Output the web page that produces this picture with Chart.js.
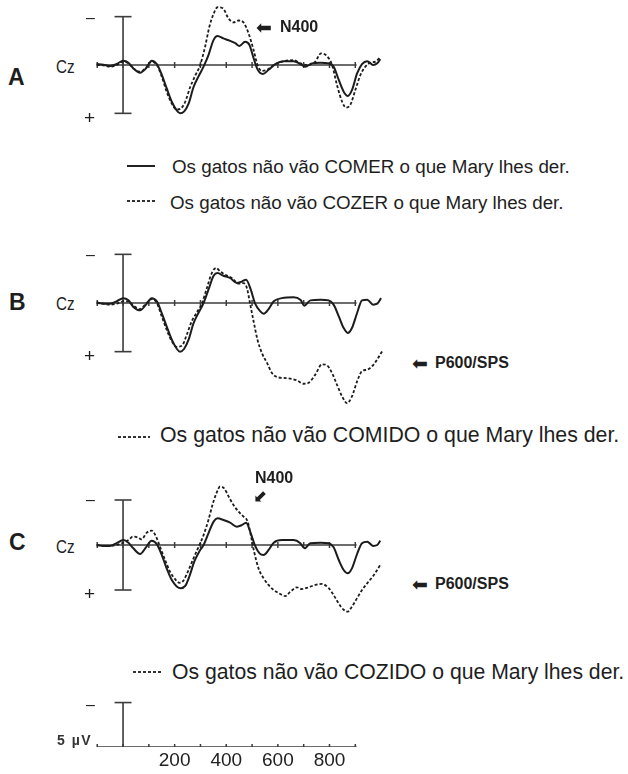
<!DOCTYPE html>
<html>
<head>
<meta charset="utf-8">
<script src="https://cdn.jsdelivr.net/npm/chart.js@4.4.1/dist/chart.umd.min.js"></script>
<style>
  html,body{margin:0;padding:0;background:#fff;}
  #page{position:relative;width:628px;height:774px;overflow:hidden;background:#fff;font-family:"Liberation Sans",Arial,sans-serif;color:#1e1e1e;}
  canvas{position:absolute;}
  .t{position:absolute;white-space:nowrap;line-height:1;transform:translateY(-50%);}
  .b{font-weight:bold;}
  .arr{position:absolute;white-space:nowrap;line-height:1;transform:translateY(-50%);font-family:'DejaVu Sans',sans-serif;font-size:19px;color:#1e1e1e;}
  .solid{position:absolute;height:2px;background:#222;}
  .dots{position:absolute;height:2px;background:repeating-linear-gradient(90deg,#333 0 3px,transparent 3px 5px);}
</style>
</head>
<body>
<div id="page">
  <canvas id="cA" width="296" height="130" style="left:90px;top:0px"></canvas>
  <canvas id="cB" width="296" height="180" style="left:90px;top:240px"></canvas>
  <canvas id="cC" width="296" height="140" style="left:90px;top:480px"></canvas>
  <canvas id="cS" width="296" height="84" style="left:90px;top:690px"></canvas>

  <!-- Panel A -->
  <div class="t b" style="left:8px;top:77px;font-size:23px">A</div>
  <div class="t" style="left:56px;top:66px;font-size:19px;transform:translateY(-50%) scaleX(0.8);transform-origin:left center">Cz</div>
  <div class="t" style="left:86px;top:18px;font-size:16px">–</div>
  <div class="t" style="left:84px;top:117px;font-size:19px">+</div>
  <div class="arr" style="left:256px;top:27px">⬅</div>
  <div class="t b" style="left:280px;top:27px;font-size:16px">N400</div>
  <div class="solid" style="left:127px;top:165px;width:28px"></div>
  <div class="t" style="left:172px;top:167px;font-size:18.8px">Os gatos não vão COMER o que Mary lhes der.</div>
  <div class="dots" style="left:127px;top:200px;width:28px"></div>
  <div class="t" style="left:170px;top:203px;font-size:18.8px">Os gatos não vão COZER o que Mary lhes der.</div>

  <!-- Panel B -->
  <div class="t b" style="left:9px;top:302px;font-size:23px">B</div>
  <div class="t" style="left:56px;top:303px;font-size:19px;transform:translateY(-50%) scaleX(0.8);transform-origin:left center">Cz</div>
  <div class="t" style="left:86px;top:255px;font-size:16px">–</div>
  <div class="t" style="left:84px;top:355px;font-size:19px">+</div>
  <div class="arr" style="left:412px;top:363px">⬅</div>
  <div class="t b" style="left:435px;top:363px;font-size:16px">P600/SPS</div>
  <div class="dots" style="left:118px;top:436px;width:32px"></div>
  <div class="t" style="left:160px;top:436px;font-size:21.3px">Os gatos não vão COMIDO o que Mary lhes der.</div>

  <!-- Panel C -->
  <div class="t b" style="left:9px;top:542px;font-size:23px">C</div>
  <div class="t" style="left:56px;top:546px;font-size:19px;transform:translateY(-50%) scaleX(0.8);transform-origin:left center">Cz</div>
  <div class="t" style="left:86px;top:500px;font-size:16px">–</div>
  <div class="t" style="left:84px;top:593px;font-size:19px">+</div>
  <div class="t b" style="left:255px;top:478px;font-size:16px">N400</div>
  <div class="arr" style="left:253px;top:496px;font-size:17px">⬋</div>
  <div class="arr" style="left:412px;top:584px">⬅</div>
  <div class="t b" style="left:435px;top:584px;font-size:16px">P600/SPS</div>
  <div class="dots" style="left:133px;top:671px;width:30px"></div>
  <div class="t" style="left:172px;top:672px;font-size:21.2px">Os gatos não vão COZIDO o que Mary lhes der.</div>

  <!-- Scale -->
  <div class="t" style="left:86px;top:705px;font-size:16px">–</div>
  <div class="t b" style="left:57px;top:740px;font-size:14px;letter-spacing:1.5px;color:#333">5 µV</div>
</div>

<script>
// ---------- DATA (time in ms, amplitude in µV; negative plotted up) ----------
const A_comer_ms = [-102,-76,-50,-25,1,21,40,66,89,111,131,150,169,189,208,221,237,254,273,292,312,331,351,366,389,415,435,451,473,490,506,521,542,564,590,622,661,687,706,732,765,797,816,836,855,871,887,907,926,946,969,985,997];
const A_comer_uV = [-0.1,-0.03,0.1,-0.1,-0.45,-0.24,0.35,0.8,0.35,-0.45,-0.1,1.0,2.4,3.8,4.7,5.0,4.8,4.0,2.3,1.2,0.17,-1.03,-2.6,-3.0,-2.75,-2.5,-2.25,-1.97,-2.4,-2.07,-0.7,0.45,0.93,0.5,-0.1,-0.4,-0.4,-0.1,0.17,-0.17,-0.24,-0.17,0.17,1.55,2.76,3.2,2.6,0.86,-0.1,-0.4,0,-0.17,-0.6];

const A_cozer_ms = [-102,-76,-50,-25,1,21,40,66,89,111,131,150,169,189,208,224,241,260,279,299,318,335,351,366,387,409,428,448,467,486,506,521,538,558,584,616,661,687,713,745,767,790,810,829,849,864,881,900,920,939,959,978,997];
const A_cozer_uV = [0,0.03,0.17,0,-0.35,-0.17,0.35,0.7,0.28,-0.35,0,1.2,2.76,4.0,4.6,4.5,3.8,2.3,1.14,0,-1.9,-4.0,-5.3,-5.97,-5.86,-4.8,-4.4,-4.6,-4.4,-3.3,-1.55,0,0.6,0.5,0,-0.35,-0.5,-0.17,0,-0.35,-1.2,-0.93,0,2.07,3.8,4.4,4.1,2.6,1.03,0.17,-0.24,-0.35,-0.8];

const B_comer_ms = [-102,-76,-50,-25,1,21,40,66,89,111,131,150,169,189,208,221,237,254,273,292,312,331,351,366,389,415,441,460,477,495,512,532,545,564,584,616,661,687,703,726,765,797,816,836,855,871,887,907,926,946,969,985,1000];
const B_comer_uV = [-0.07,0.07,0.07,-0.17,-0.5,-0.27,0.4,0.75,0.17,-0.5,-0.17,1.03,2.4,3.77,4.7,5.0,4.7,3.77,2.1,1.03,0,-1.37,-2.8,-3.08,-2.8,-2.57,-2.05,-2.2,-2.4,-1.37,0.07,0.86,1.1,0.62,-0.17,-0.5,-0.58,-0.34,0.27,-0.27,-0.34,-0.27,0.17,1.37,2.57,3.08,2.57,1.03,-0.27,-0.34,0.17,0.07,-0.5];

const B_comido_ms = [-102,-76,-50,-25,1,21,40,66,89,111,131,150,169,189,208,228,247,266,286,305,325,344,361,376,396,422,448,467,480,493,506,521,538,558,577,596,622,648,674,700,719,745,771,790,810,829,849,868,887,907,926,946,965,985,1004];
const B_comido_uV = [0,0.07,0.17,0.07,-0.17,-0.17,0.27,0.62,0.07,-0.4,0,1.37,2.74,3.94,4.5,4.4,3.25,1.9,0.96,0.07,-1.54,-3.08,-3.6,-3.25,-2.9,-2.57,-1.99,-2.05,-1.54,0.17,1.9,3.77,5.14,6.16,7.2,7.6,7.7,7.77,7.95,8.3,8.2,7.36,6.3,6.4,7.2,8.4,9.6,10.3,9.6,8.05,7.0,6.85,6.5,5.8,4.97];

const C_comer_ms = [-102,-76,-50,-25,1,21,40,66,89,111,131,150,169,189,208,224,241,257,276,295,312,331,351,366,389,415,441,460,477,495,512,529,545,564,584,616,661,687,703,726,765,797,816,836,855,871,887,907,926,946,969,985,997];
const C_comer_uV = [0,0.1,0.1,-0.2,-0.55,-0.26,0.37,1.0,0.26,-0.48,-0.1,1.1,2.6,3.9,4.6,4.8,4.55,3.5,1.85,0.74,0,-1.3,-2.6,-2.96,-2.78,-2.48,-2.04,-2.2,-2.48,-1.3,0.1,0.93,1.1,0.55,-0.26,-0.55,-0.55,-0.2,0.37,-0.2,-0.26,-0.2,0.26,1.67,2.78,3.15,2.6,1.0,-0.2,-0.37,0.1,0,-0.48];

const C_cozido_ms = [-102,-76,-50,-25,1,21,38,56,72,92,111,128,144,163,182,202,219,234,254,273,292,312,331,348,364,376,392,409,428,448,467,483,495,508,525,545,564,584,609,629,648,674,693,719,745,771,797,816,836,855,871,887,907,926,946,972,997];
const C_cozido_uV = [0,0.1,0.1,0,-0.26,-0.55,-0.93,-0.85,-0.63,-1.37,-1.6,-0.93,0.26,1.67,2.96,3.8,4.2,3.96,2.78,1.48,0.26,-1.1,-2.78,-4.6,-5.9,-6.5,-6.3,-5.4,-4.44,-3.7,-3.15,-2.6,-1.1,0.74,2.6,3.7,4.44,5.0,5.44,5.67,5.2,4.7,4.9,4.7,4.44,4.33,4.8,5.56,6.5,7.2,7.4,6.85,5.9,5.0,4.26,3.33,2.2];

const baselineTicks_ms = [-100,0,100,200,300,400,500,600,700,800,900];
const xTickLabels = [200,400,600,800];
const baselineRange_ms = [-100, 905];
const scaleBar_uV = 5;

// ---------- helpers ----------
const INK = '#1c1c1c';
const AXIS = '#3c3c3c';
const X_MIN = -128, X_MAX = 1019;
const pts = (t, v) => t.map((x, i) => ({x, y: v[i]}));

function traceSolid(t, v){
  return {data: pts(t, v), showLine: true, borderColor: INK, borderWidth: 2, pointRadius: 0,
          cubicInterpolationMode: 'monotone', fill: false};
}
function traceDash(t, v){
  return {data: pts(t, v), showLine: true, borderColor: INK, borderWidth: 1.8, borderDash: [3, 2],
          pointRadius: 0, cubicInterpolationMode: 'monotone', fill: false};
}
function baseline(){
  return {data: baselineRange_ms.map(x => ({x, y: 0})), showLine: true, borderColor: AXIS,
          borderWidth: 1.5, pointRadius: 0, tension: 0};
}
function baseTicks(){
  return {data: baselineTicks_ms.map(x => ({x, y: 0})), showLine: false, pointStyle: 'line',
          rotation: 90, pointRadius: 3, borderColor: AXIS, pointBorderColor: AXIS, pointBorderWidth: 1.5};
}
function bar(full){
  const d = full ? [{x:0,y:-scaleBar_uV},{x:0,y:scaleBar_uV}] : [{x:0,y:-scaleBar_uV},{x:0,y:0}];
  return {data: d, showLine: true, borderColor: AXIS, borderWidth: 1.6, tension: 0,
          pointStyle: 'line', pointRadius: full ? [8.5, 8.5] : [8.5, 0],
          pointBorderColor: AXIS, pointBorderWidth: 1.6};
}
function opts(yMin, yMax, showX){
  return {
    responsive: false, animation: false, devicePixelRatio: 1,
    layout: {padding: 0, autoPadding: false},
    plugins: {legend: {display: false}, tooltip: {enabled: false}},
    events: [],
    scales: {
      x: {type: 'linear', min: X_MIN, max: X_MAX, display: !!showX,
          grid: {display: false, drawTicks: false}, border: {display: false},
          afterBuildTicks: s => { s.ticks = xTickLabels.map(v => ({value: v})); },
          ticks: {padding: 4, color: '#222', autoSkip: false, maxRotation: 0,
                  font: {family: "'Liberation Sans', Arial, sans-serif", size: 19, lineHeight: 1},
                  callback: v => String(v)}},
      y: {type: 'linear', min: yMin, max: yMax, reverse: true, display: false}
    }
  };
}

// px per µV of each panel (from the panel's ±5 µV bar) and baseline offset within its canvas
new Chart(document.getElementById('cA'), {type: 'scatter',
  data: {datasets: [traceSolid(A_comer_ms, A_comer_uV), traceDash(A_cozer_ms, A_cozer_uV), baseTicks(), baseline(), bar(true)]},
  options: opts(-65/9.67, 65/9.67)});

new Chart(document.getElementById('cB'), {type: 'scatter',
  data: {datasets: [traceSolid(B_comer_ms, B_comer_uV), traceDash(B_comido_ms, B_comido_uV), baseTicks(), baseline(), bar(true)]},
  options: opts(-63/9.73, 117/9.73)});

new Chart(document.getElementById('cC'), {type: 'scatter',
  data: {datasets: [traceSolid(C_comer_ms, C_comer_uV), traceDash(C_cozido_ms, C_cozido_uV), baseTicks(), baseline(), bar(true)]},
  options: opts(-65/9.0, 75/9.0)});

new Chart(document.getElementById('cS'), {type: 'scatter',
  data: {datasets: [baseTicks(), baseline(), bar(false)]},
  options: opts(-59/9.2, 0, true)});
</script>
</body>
</html>
